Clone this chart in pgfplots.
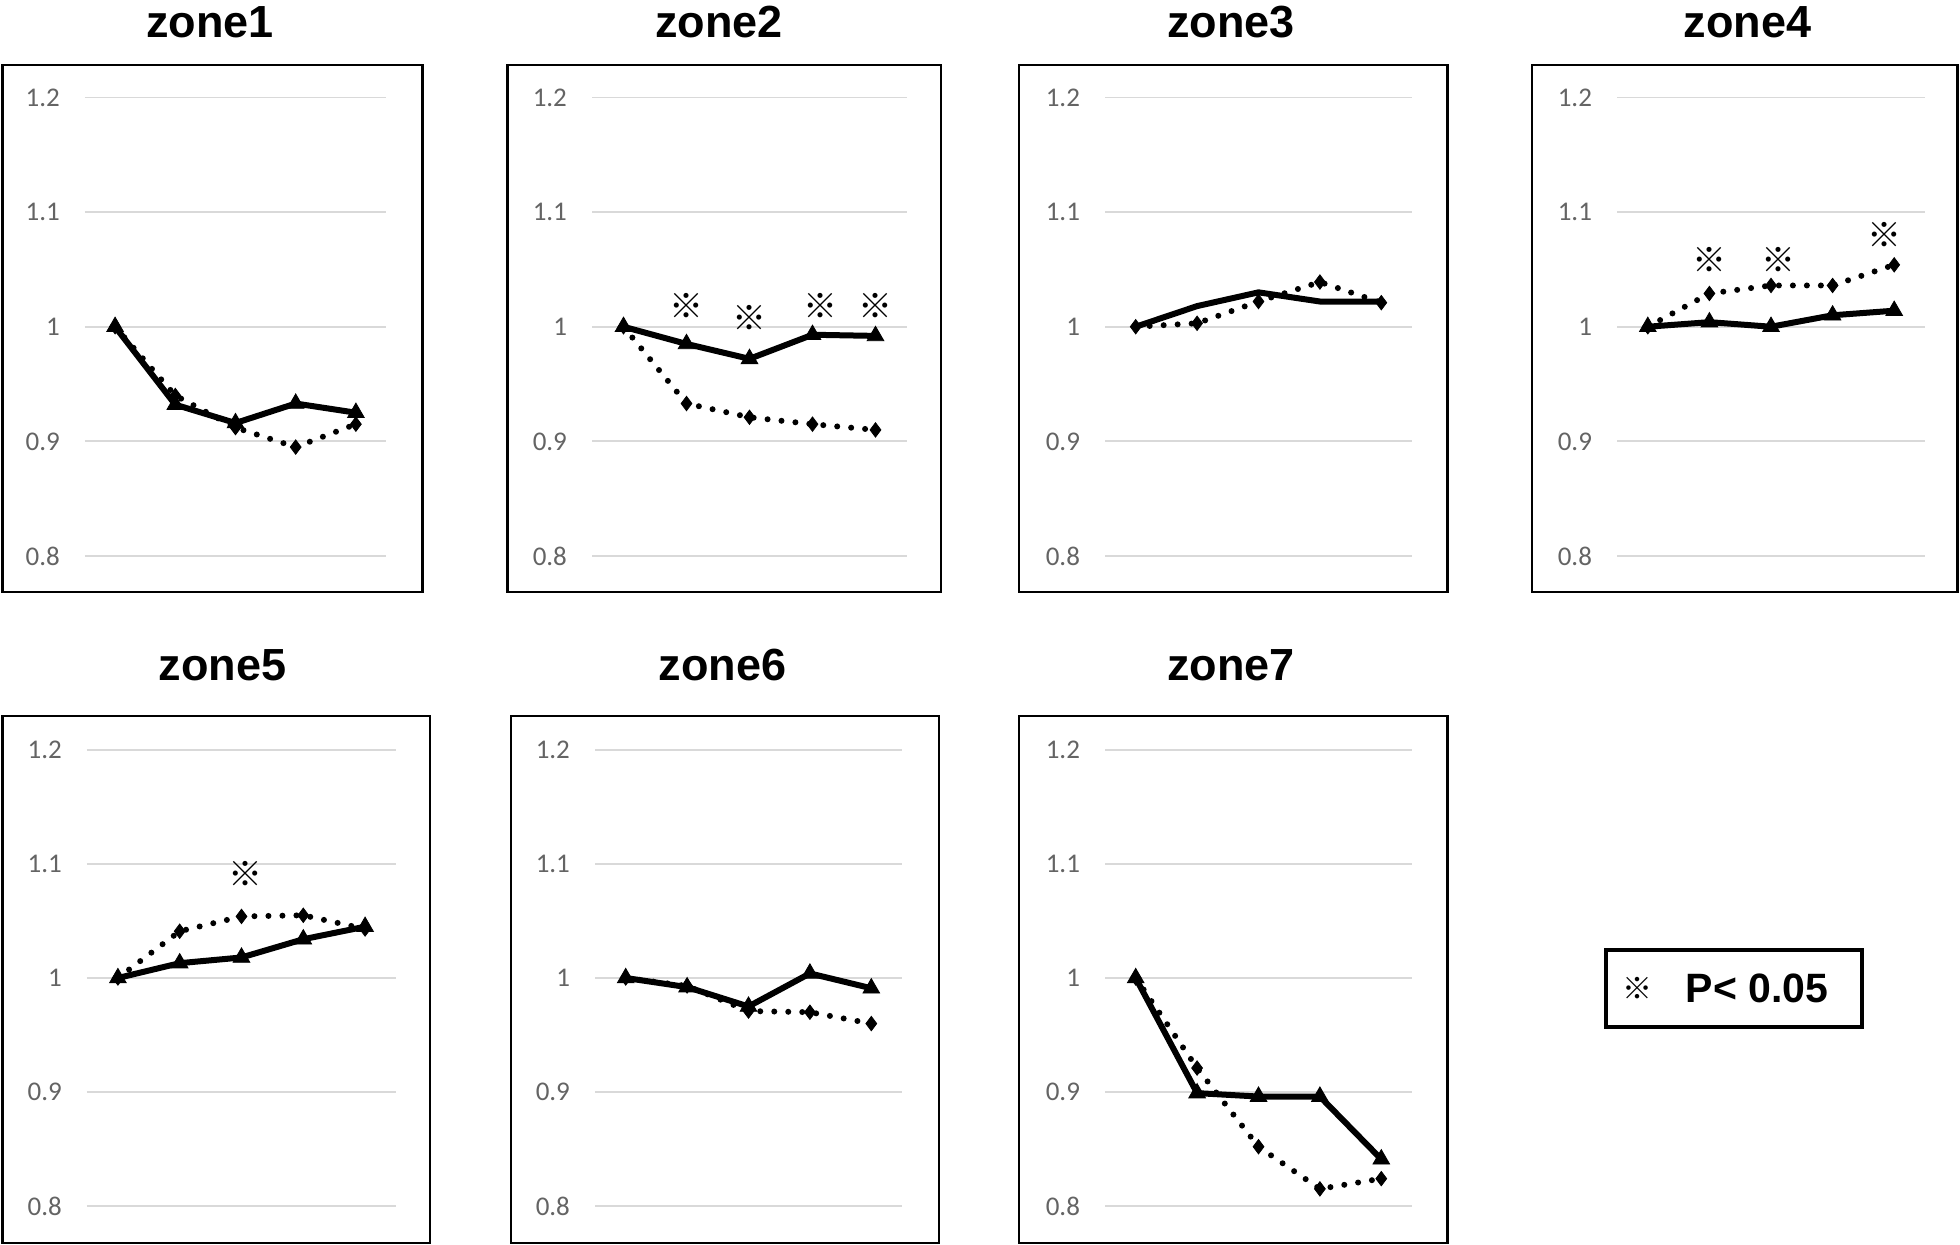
\documentclass[border=0pt]{standalone}
\usepackage{fontspec}
\setmainfont{Liberation Sans}
\newfontfamily\calibri{Carlito}
\newfontfamily\cjk{Noto Sans CJK JP}
\usepackage{pgfplots}
\pgfplotsset{compat=1.18}
\definecolor{gridgray}{RGB}{217,217,217}
\definecolor{ticktext}{RGB}{100,100,100}
\pgfplotsset{
 zone/.style={
  scale only axis, anchor=south west,
  xmin=0.5,xmax=5.5,ymin=0.8,ymax=1.2,
  xtick=\empty, ytick={0.8,0.9,1,1.1,1.2},
  yticklabels={0.8,0.9,1,1.1,1.2},
  axis line style={draw=none},
  major tick length=0pt,
  ymajorgrids, grid style={gridgray,line width=0.9pt},
  yticklabel style={font=\calibri\fontsize{13.5}{15}\selectfont, text=ticktext, xshift=-9pt},
  clip=false,
 },
 solidser/.style={black,line width=3pt,mark=triangle*,mark size=4.8pt,mark options={solid,line width=0.4pt}},
 dotser/.style={black,line width=3pt,line cap=round,dash pattern=on 0pt off 7pt,mark=diamond*,mark size=3.6pt,mark options={solid,line width=0.4pt}},
 sig/.style={draw=none,mark=none,nodes near coords={\cjk\fontsize{17}{17}\selectfont ※},
   every node near coord/.append style={anchor=center,inner sep=0pt}},
}
\begin{document}
\begin{tikzpicture}
\path[use as bounding box] (0,0) rectangle (980pt,622.5pt);
% zone1
\begin{axis}[zone, at={(42.5pt,344.5pt)}, width=150.5pt, height=229.25pt]
\addplot[solidser] coordinates {(1,1) (2,0.932) (3,0.916) (4,0.933) (5,0.925)};
\addplot[dotser] coordinates {(1,1) (2,0.940) (3,0.912) (4,0.895) (5,0.915)};
\end{axis}
% zone2
\begin{axis}[zone, at={(296pt,344.5pt)}, width=157.5pt, height=229.25pt]
\addplot[solidser] coordinates {(1,1) (2,0.985) (3,0.972) (4,0.993) (5,0.992)};
\addplot[dotser] coordinates {(1,1) (2,0.933) (3,0.921) (4,0.915) (5,0.910)};
\addplot[sig] coordinates {(2,1.018) (3,1.008) (4.12,1.018) (5,1.018)};
\end{axis}
% zone3
\begin{axis}[zone, at={(552.5pt,344.5pt)}, width=153.5pt, height=229.25pt]
\addplot[solidser,mark=none] coordinates {(1,1) (2,1.018) (3,1.030) (4,1.022) (5,1.022)};
\addplot[dotser] coordinates {(1,1) (2,1.003) (3,1.022) (4,1.039) (5,1.021)};
\end{axis}
% zone4
\begin{axis}[zone, at={(808.5pt,344.5pt)}, width=154pt, height=229.25pt]
\addplot[solidser] coordinates {(1,1) (2,1.004) (3,1.0) (4,1.010) (5,1.014)};
\addplot[dotser] coordinates {(1,1) (2,1.029) (3,1.036) (4,1.036) (5,1.054)};
\addplot[sig] coordinates {(2,1.058) (3.12,1.058) (4.85,1.080)};
\end{axis}
% zone5
\begin{axis}[zone, at={(43.5pt,19.5pt)}, width=154.5pt, height=228pt]
\addplot[solidser] coordinates {(1,1) (2,1.013) (3,1.018) (4,1.034) (5,1.045)};
\addplot[dotser] coordinates {(1,1) (2,1.041) (3,1.054) (4,1.055) (5,1.043)};
\addplot[sig] coordinates {(3.06,1.091)};
\end{axis}
% zone6
\begin{axis}[zone, at={(297.5pt,19.5pt)}, width=153.5pt, height=228pt]
\addplot[solidser] coordinates {(1,1) (2,0.992) (3,0.975) (4,1.004) (5,0.991)};
\addplot[dotser] coordinates {(1,1) (2,0.993) (3,0.971) (4,0.970) (5,0.960)};
\end{axis}
% zone7
\begin{axis}[zone, at={(552.5pt,19.5pt)}, width=153.5pt, height=228pt]
\addplot[solidser] coordinates {(1,1) (2,0.899) (3,0.896) (4,0.896) (5,0.841)};
\addplot[dotser] coordinates {(1,1) (2,0.921) (3,0.852) (4,0.815) (5,0.824)};
\end{axis}
% frames, titles, legend
\begin{scope}[x=0.5pt,y=-0.5pt,yshift=622.5pt]
\begin{scope}[line width=1.2pt]
\draw (2.5,65) rectangle (422.5,592);
\draw (507.5,65) rectangle (941,592);
\draw (1019,65) rectangle (1447.5,592);
\draw (1532,65) rectangle (1957.5,592);
\draw (2.5,716) rectangle (430,1243);
\draw (511,716) rectangle (939,1243);
\draw (1019,716) rectangle (1447.5,1243);
\end{scope}
\begin{scope}[every node/.style={font=\bfseries\fontsize{22.5}{22.5}\selectfont,inner sep=0pt}]
\node at (210,22.5) {zone1};
\node at (719,22.5) {zone2};
\node at (1231,22.5) {zone3};
\node at (1747.5,22.5) {zone4};
\node at (222.5,665) {zone5};
\node at (722.5,665) {zone6};
\node at (1231,665) {zone7};
\end{scope}
\draw[line width=1.6pt] (1606,950) rectangle (1862,1027);
\node[inner sep=0pt] at (1637,988) {\cjk\fontsize{15}{15}\selectfont ※};
\node[inner sep=0pt,font=\bfseries\fontsize{20.5}{20.5}\selectfont] at (1757,988) {P< 0.05};
\end{scope}
\end{tikzpicture}
\end{document}
